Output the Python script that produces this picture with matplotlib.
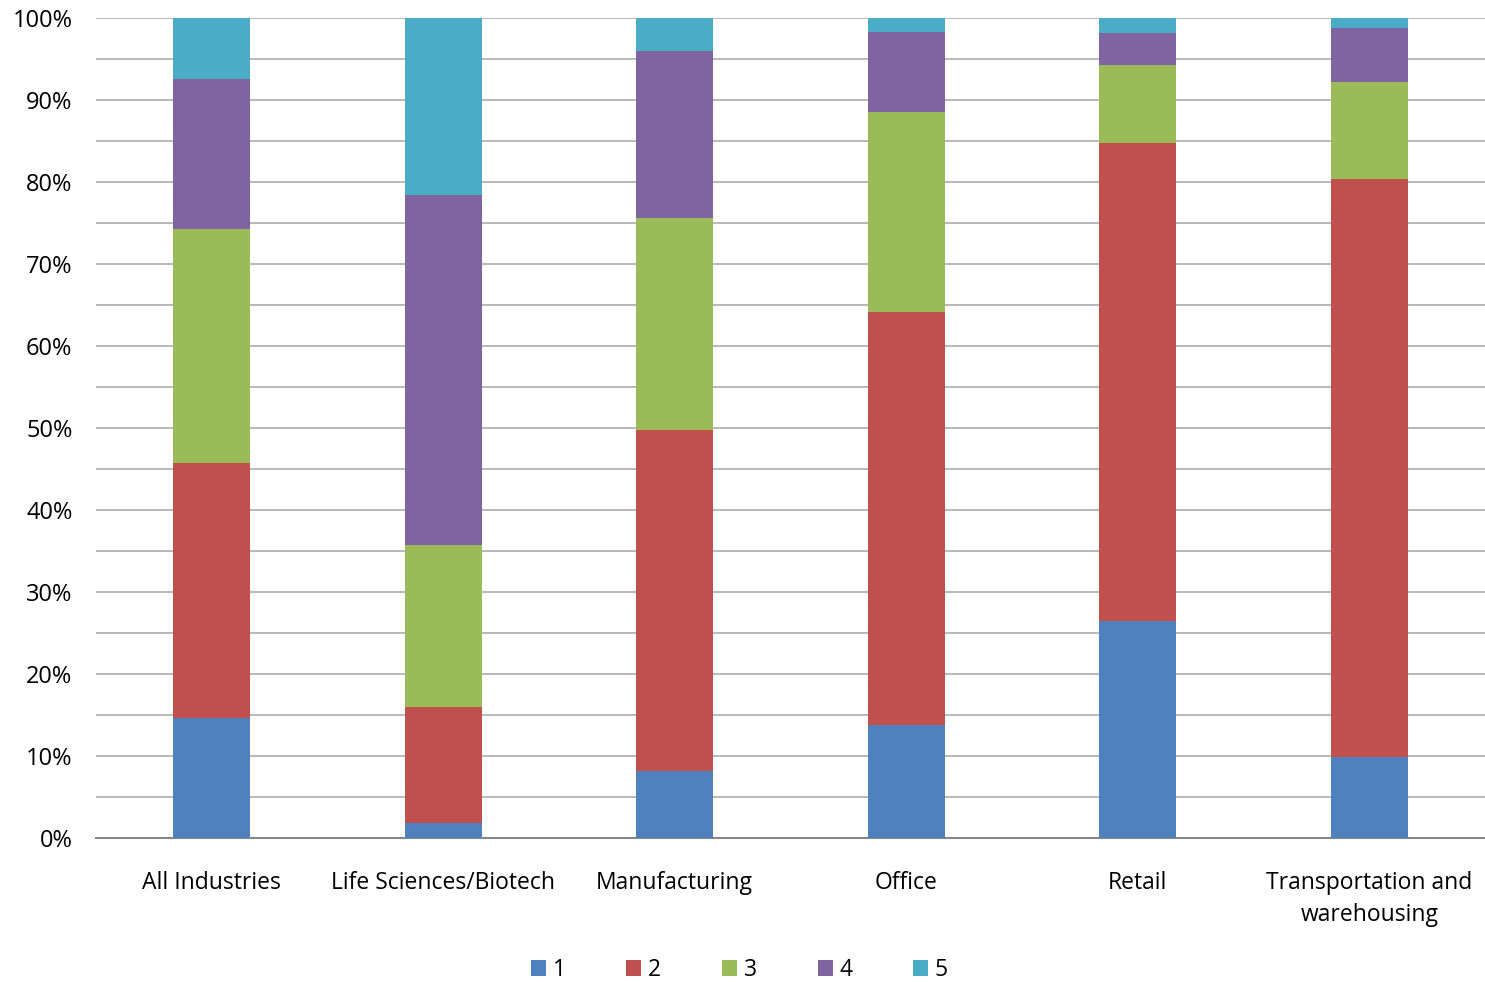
import numpy as np
import matplotlib
matplotlib.use('Agg')
import matplotlib.pyplot as plt
from matplotlib.ticker import PercentFormatter, MultipleLocator

# values (percent of each bar)
categories = ['All Industries', 'Life Sciences/Biotech', 'Manufacturing',
              'Office', 'Retail', 'Transportation and\nwarehousing']
series_names = ['1', '2', '3', '4', '5']
s1 = [14.6, 1.8, 8.2, 13.8, 26.5, 9.9]
s2 = [31.1, 14.2, 41.6, 50.3, 58.3, 70.5]
s3 = [28.6, 19.7, 25.8, 24.4, 9.5, 11.8]
s4 = [18.3, 42.7, 20.4, 9.8, 3.9, 6.6]
s5 = [7.4, 21.6, 4.0, 1.7, 1.8, 1.2]
colors = ['#4F81BD', '#C0504D', '#9BBB59', '#8064A2', '#4BACC6']

plt.rcParams['font.family'] = ['Open Sans', 'DejaVu Sans']

fig = plt.figure(figsize=(14.85, 9.82), dpi=100)
ax = fig.add_axes([96 / 1485, 144 / 982, 1389 / 1485, 820 / 982])

x = np.arange(len(categories))
bottom = np.zeros(len(categories))
for name, vals, c in zip(series_names, [s1, s2, s3, s4, s5], colors):
    ax.bar(x, vals, bottom=bottom, width=0.333, color=c, label=name, zorder=3)
    bottom += np.array(vals)

ax.set_xlim(-0.5, len(categories) - 0.5)
ax.set_ylim(0, 100)
ax.yaxis.set_major_locator(MultipleLocator(10))
ax.yaxis.set_minor_locator(MultipleLocator(5))
ax.yaxis.set_major_formatter(PercentFormatter(decimals=0))
ax.grid(axis='y', which='both', color='#B3B3B3', linewidth=1.3, zorder=0)
ax.set_xticks(x)
ax.set_xticklabels(categories, fontsize=16.5, linespacing=1.45)
ax.tick_params(axis='y', labelsize=17, length=0, pad=17, which='both')
ax.tick_params(axis='x', length=0, pad=24)
for s in ['top', 'right', 'left']:
    ax.spines[s].set_visible(False)
ax.spines['bottom'].set_color('#868686')
ax.spines['bottom'].set_linewidth(1.5)

fig.legend(loc='center', bbox_to_anchor=(0.498, 12 / 982), ncol=5, frameon=False,
           fontsize=16.5, handlelength=0.65, handleheight=0.65, handletextpad=0.3,
           columnspacing=2.65)

fig.savefig('out.png', dpi=100)
